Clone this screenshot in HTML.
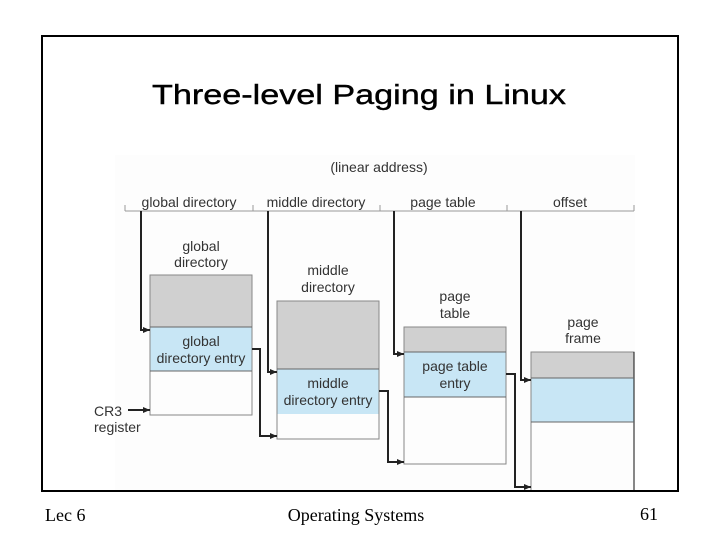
<!DOCTYPE html>
<html><head><meta charset="utf-8"><style>
html,body{margin:0;padding:0;background:#fff;width:720px;height:540px;overflow:hidden}
</style></head><body>
<svg width="720" height="540" viewBox="0 0 720 540" xmlns="http://www.w3.org/2000/svg">
<defs>
<marker id="a" markerWidth="8" markerHeight="8" refX="7" refY="4" orient="auto" markerUnits="userSpaceOnUse">
<path d="M0,1 L7,4 L0,7 Z" fill="#222"/></marker>
</defs>
<rect x="0" y="0" width="720" height="540" fill="#fff"/>
<rect x="115" y="155" width="520" height="335" fill="#fdfdfd"/>
<text x="152" y="104" font-family="Liberation Sans, sans-serif" font-size="28" textLength="414" lengthAdjust="spacingAndGlyphs" fill="#000" stroke="#000" stroke-width="0.4">Three-level Paging in Linux</text>

<g font-family="Liberation Sans, sans-serif" font-size="14" fill="#333" text-anchor="middle">
<text x="379" y="172">(linear address)</text>
<text x="189" y="207">global directory</text>
<text x="316" y="207">middle directory</text>
<text x="443" y="207">page table</text>
<text x="570" y="207">offset</text>
<text x="201" y="251">global</text>
<text x="201" y="267">directory</text>
<text x="328" y="275">middle</text>
<text x="328" y="292">directory</text>
<text x="455" y="301">page</text>
<text x="455" y="318">table</text>
<text x="583" y="327">page</text>
<text x="583" y="343">frame</text>
</g>
<g stroke="#999" stroke-width="1" fill="none">
<line x1="125" y1="211" x2="634" y2="211"/>
<line x1="125" y1="205" x2="125" y2="211"/>
<line x1="253" y1="205" x2="253" y2="211"/>
<line x1="380" y1="205" x2="380" y2="211"/>
<line x1="507" y1="205" x2="507" y2="211"/>
<line x1="634" y1="205" x2="634" y2="211"/>
</g>

<rect x="150" y="275" width="102" height="52" fill="#d0d0d0"/>
<rect x="150" y="327" width="102" height="44" fill="#c8e6f5"/>
<rect x="150" y="275" width="102" height="140" fill="none" stroke="#888" stroke-width="1"/>
<line x1="150" y1="327" x2="252" y2="327" stroke="#666"/>
<line x1="150" y1="371" x2="252" y2="371" stroke="#666"/>
<rect x="277" y="301" width="102" height="68" fill="#d0d0d0"/>
<rect x="277" y="369" width="102" height="45" fill="#c8e6f5"/>
<rect x="277" y="301" width="102" height="138" fill="none" stroke="#888" stroke-width="1"/>
<line x1="277" y1="369" x2="379" y2="369" stroke="#666"/>
<rect x="404" y="327" width="102" height="25" fill="#d0d0d0"/>
<rect x="404" y="352" width="102" height="45" fill="#c8e6f5"/>
<rect x="404" y="327" width="102" height="137" fill="none" stroke="#888" stroke-width="1"/>
<line x1="404" y1="352" x2="506" y2="352" stroke="#666"/>
<line x1="404" y1="397" x2="506" y2="397" stroke="#666"/>
<rect x="531" y="352" width="103" height="26" fill="#d0d0d0"/>
<rect x="531" y="378" width="103" height="44" fill="#c8e6f5"/>
<path d="M531,491 V352 H634 V491" fill="none" stroke="#888"/>
<line x1="634" y1="352" x2="634" y2="491" stroke="#111"/>
<line x1="531" y1="378" x2="634" y2="378" stroke="#666"/>
<line x1="531" y1="422" x2="634" y2="422" stroke="#666"/>

<g font-family="Liberation Sans, sans-serif" font-size="14" fill="#333" text-anchor="middle">
<text x="201" y="346">global</text>
<text x="201" y="363">directory entry</text>
<text x="328" y="388">middle</text>
<text x="328" y="405">directory entry</text>
<text x="455" y="371">page table</text>
<text x="455" y="388">entry</text>
</g>
<g font-family="Liberation Sans, sans-serif" font-size="14" fill="#333">
<text x="94" y="416">CR3</text>
<text x="94" y="432">register</text>
</g>

<g stroke="#222" stroke-width="2" fill="none" marker-end="url(#a)">
<path d="M141,211 V330 H150"/>
<path d="M268,211 V372 H277"/>
<path d="M394,211 V354 H404"/>
<path d="M521,211 V380 H531"/>
<path d="M252,349 H260 V436 H277"/>
<path d="M379,391 H388 V462 H404"/>
<path d="M506,374 H515 V487 H531"/>
<path d="M128,410 H150"/>
</g>

<rect x="42" y="36" width="636" height="455" fill="none" stroke="#000" stroke-width="2"/>
<g font-family="Liberation Serif, serif" font-size="18" fill="#000">
<text x="45" y="521">Lec 6</text>
<text x="356" y="521" text-anchor="middle">Operating Systems</text>
<text x="640" y="520">61</text>
</g>
</svg>
</body></html>
